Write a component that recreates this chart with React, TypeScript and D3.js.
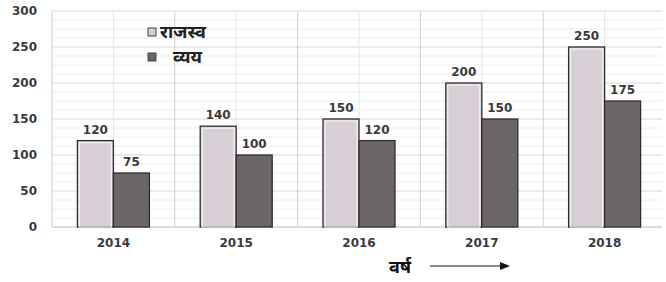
import React, { useRef, useEffect } from 'react';
import * as d3 from 'd3';

const years = ['2014', '2015', '2016', '2017', '2018'];
const revenue = [120, 140, 150, 200, 250];
const expense = [75, 100, 120, 150, 175];
const seriesNames = ['राजस्व', 'व्यय'];
const yTicks = [0, 50, 100, 150, 200, 250, 300];
const xTitle = 'वर्ष';

const W = 666;
const H = 282;

const App: React.FC = () => {
  const svgRef = useRef<SVGSVGElement>(null);

  useEffect(() => {
    if (!svgRef.current) return;
    const svg = d3.select(svgRef.current);
    svg.selectAll('*').remove();

    const left = 52, right = 666, top = 11, bottom = 227;
    const font = "'DejaVu Sans', Verdana, sans-serif";
    const hindi = "'Noto Sans Devanagari', 'Lohit Devanagari', 'Noto Sans', sans-serif";
    const labelColor = '#3a3a3a';

    const x = d3.scaleBand().domain(years).range([left, right]);
    const y = d3.scaleLinear().domain([0, 300]).range([bottom, top]);
    const barW = 36;
    const cx = (d: string) => (x(d) || 0) + x.bandwidth() / 2;

    svg.append('rect').attr('width', W).attr('height', H).attr('fill', '#fff');

    // minor horizontal grid
    svg.append('g').selectAll('line')
      .data(d3.range(0, 300, 12.5).filter(v => v % 50 !== 0))
      .enter().append('line')
      .attr('x1', left).attr('x2', 662)
      .attr('y1', d => y(d)).attr('y2', d => y(d))
      .attr('stroke', '#eeeeee').attr('stroke-width', 1);

    // major horizontal grid
    svg.append('g').selectAll('line')
      .data(yTicks)
      .enter().append('line')
      .attr('x1', left).attr('x2', 662)
      .attr('y1', d => y(d)).attr('y2', d => y(d))
      .attr('stroke', d => d === 0 ? '#bbb' : '#d8d8d8').attr('stroke-width', 1);

    // vertical grid: centers (light) and boundaries (darker)
    svg.append('g').selectAll('line')
      .data(years)
      .enter().append('line')
      .attr('x1', d => cx(d)).attr('x2', d => cx(d))
      .attr('y1', top).attr('y2', bottom)
      .attr('stroke', '#e6e6e6');

    svg.append('g').selectAll('line')
      .data(years)
      .enter().append('line')
      .attr('x1', d => x(d) || 0).attr('x2', d => x(d) || 0)
      .attr('y1', top).attr('y2', bottom)
      .attr('stroke', '#cfcfcf');

    // bars
    const groups = svg.append('g').selectAll('g')
      .data(years)
      .enter().append('g');

    groups.append('rect')
      .attr('x', d => cx(d) - barW)
      .attr('y', (d, i) => y(revenue[i]))
      .attr('width', barW)
      .attr('height', (d, i) => bottom - y(revenue[i]))
      .attr('fill', '#d8cfd6')
      .attr('stroke', '#2e2e2e').attr('stroke-width', 1.3);

    // inner white edge of revenue bars
    groups.append('rect')
      .attr('x', d => cx(d) - barW + 2)
      .attr('y', (d, i) => y(revenue[i]) + 2)
      .attr('width', barW - 4)
      .attr('height', (d, i) => bottom - y(revenue[i]) - 2)
      .attr('fill', 'none')
      .attr('stroke', '#f4f1f3').attr('stroke-width', 1.2);

    groups.append('rect')
      .attr('x', d => cx(d))
      .attr('y', (d, i) => y(expense[i]))
      .attr('width', barW)
      .attr('height', (d, i) => bottom - y(expense[i]))
      .attr('fill', '#6c6667')
      .attr('stroke', '#2e2e2e').attr('stroke-width', 1.3);

    // value labels
    groups.append('text')
      .attr('x', d => cx(d) - barW / 2)
      .attr('y', (d, i) => y(revenue[i]) - 7)
      .attr('text-anchor', 'middle')
      .attr('font-family', font).attr('font-size', 12).attr('font-weight', 'bold')
      .attr('fill', labelColor)
      .text((d, i) => revenue[i]);

    groups.append('text')
      .attr('x', d => cx(d) + barW / 2)
      .attr('y', (d, i) => y(expense[i]) - 7)
      .attr('text-anchor', 'middle')
      .attr('font-family', font).attr('font-size', 12).attr('font-weight', 'bold')
      .attr('fill', labelColor)
      .text((d, i) => expense[i]);

    // y tick labels
    svg.append('g').selectAll('text')
      .data(yTicks)
      .enter().append('text')
      .attr('x', 37)
      .attr('y', d => y(d) + 4)
      .attr('text-anchor', 'end')
      .attr('font-family', font).attr('font-size', 12).attr('font-weight', 'bold')
      .attr('fill', labelColor)
      .text(d => d);

    // x tick labels
    svg.append('g').selectAll('text')
      .data(years)
      .enter().append('text')
      .attr('x', d => cx(d))
      .attr('y', 247)
      .attr('text-anchor', 'middle')
      .attr('font-family', font).attr('font-size', 12).attr('font-weight', 'bold')
      .attr('fill', labelColor)
      .text(d => d);

    // legend
    const legend = svg.append('g');
    const legendFills = ['#d8cfd6', '#6c6667'];
    seriesNames.forEach((name, i) => {
      const ly = 32 + i * 25;
      legend.append('rect')
        .attr('x', 148).attr('y', ly - 4).attr('width', 8).attr('height', 8)
        .attr('fill', legendFills[i]).attr('stroke', '#444').attr('stroke-width', 1);
      legend.append('text')
        .attr('x', i === 0 ? 160 : 173).attr('y', ly + 6)
        .attr('font-family', hindi).attr('font-size', 18).attr('font-weight', 'bold')
        .attr('fill', '#222')
        .text(name);
    });

    // x title with arrow
    svg.append('text')
      .attr('x', 389).attr('y', 273)
      .attr('font-family', hindi).attr('font-size', 18).attr('font-weight', 'bold')
      .attr('fill', '#111')
      .text(xTitle);

    svg.append('line')
      .attr('x1', 430).attr('x2', 500).attr('y1', 266).attr('y2', 266)
      .attr('stroke', '#111').attr('stroke-width', 1.2);
    svg.append('path')
      .attr('d', 'M500,262 L510,266 L500,270 Z')
      .attr('fill', '#111');
  }, []);

  return (
    <div style={{ position: 'fixed', left: 0, top: 0 }}>
      <svg ref={svgRef} width={W} height={H} style={{ display: 'block' }} />
    </div>
  );
};

export default App;
